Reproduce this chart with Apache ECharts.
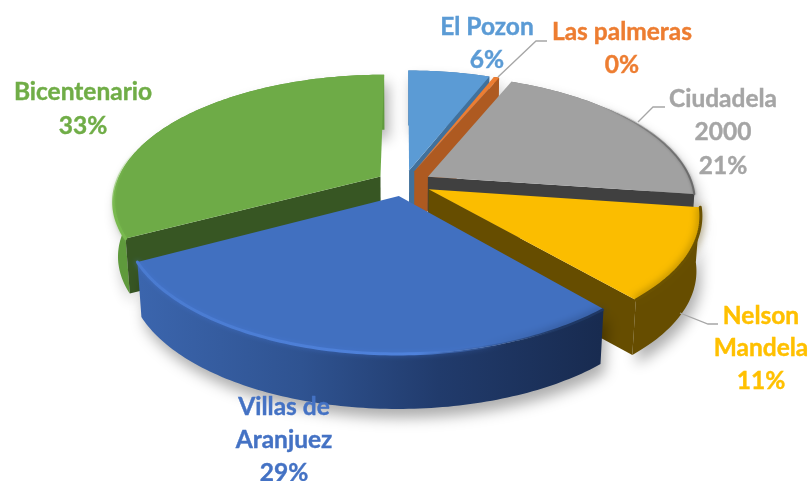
<!DOCTYPE html>
<html>
<head>
<meta charset="utf-8">
<style>html,body{margin:0;padding:0;background:#fff}#c{width:812px;height:481px}</style>
<script src="https://cdn.jsdelivr.net/npm/echarts@6/dist/echarts.min.js"></script>
</head>
<body>
<div id="c"></div>
<script>
const categories = ['El Pozon', 'Las palmeras', 'Ciudadela 2000', 'Nelson Mandela', 'Villas de Aranjuez', 'Bicentenario'];
const values = [6, 0.4, 21, 11.5, 28.7, 33];
const labelLines = [['El Pozon'], ['Las palmeras'], ['Ciudadela', '2000'], ['Nelson', 'Mandela'], ['Villas de', 'Aranjuez'], ['Bicentenario']];

const labelCenters = [[487, 27], [622, 32], [723, 99], [761, 316], [284, 407], [83, 92]];
const lineGap = [33, 33, 33.5, 32.5, 33, 34];
const leaders = [
  [[498, 77], [536, 41], [547, 41]],
  [[638, 122], [653, 107], [665, 107]],
  [[680, 313], [708, 324], [718, 324]]
];
const labelColors = ['#5b9bd5', '#ed7d31', '#a5a5a5', '#ffc000', '#4472c4', '#70ad47'];
const topColors = ['#5b9bd5', '#ed7d31', '#a1a1a1', '#fbbd00', '#4170c0', '#6eab47'];
const cutColors = ['#41719c', '#ae5a21', '#404040', '#664d00', '#2f5597', '#375623'];
const wallColors = ['#4a7fb0', '#ae5a21', '#7a7a7a', '#664d00', null, '#5f9a3c'];
const paintOrder = [0, 1, 2, 5, 3, 4];

const P = { cx: 404, cy: 183, rx: 264, ry: 123, k: 0.187, explode: 0.105, depth: 55, shrink: 0.985 };
const total = values.reduce((a, b) => a + b, 0);
const spans = [];
values.reduce((acc, v, i) => { spans[i] = [acc, acc + v / total * 360]; return spans[i][1]; }, 0);

function project(u, v) {
  const w = 1 + P.k * v;
  return [P.cx + P.rx * u / w, P.cy - P.ry * v / w];
}
function lower(p) {
  return [P.cx + (p[0] - P.cx) * P.shrink, p[1] + P.depth];
}
function sliceGeom(i) {
  const a0 = spans[i][0], a1 = spans[i][1], mid = (a0 + a1) / 2 * Math.PI / 180;
  const ou = P.explode * Math.sin(mid), ov = P.explode * Math.cos(mid);
  const rim = [];
  const n = Math.max(2, Math.ceil(a1 - a0));
  for (let j = 0; j <= n; j++) {
    const t = (a0 + (a1 - a0) * j / n) * Math.PI / 180;
    rim.push(project(ou + Math.sin(t), ov + Math.cos(t)));
  }
  return { apex: project(ou, ov), rim, startVisible: Math.sin(a0 * Math.PI / 180) < -0.01, endVisible: Math.sin(a1 * Math.PI / 180) > 0.01 };
}
const shadow = { shadowBlur: 14, shadowOffsetX: 4, shadowOffsetY: 9, shadowColor: 'rgba(0,0,0,0.32)' };
function grad(x, x2, stops) {
  return { type: 'linear', global: true, x, y: 0, x2, y2: 0, colorStops: stops };
}
function gradY(y, y2, stops) {
  return { type: 'linear', global: true, x: 0, y, x2: 0, y2, colorStops: stops };
}
const villasWall = grad(140, 600, [
  { offset: 0, color: '#3b65ad' }, { offset: 0.35, color: '#2f5391' },
  { offset: 0.65, color: '#213b6c' }, { offset: 1, color: '#182b50' }]);
const rimStyles = {
  2: { w: 2, blur: 3, glow: 'rgba(70,70,70,0.5)', color: grad(600, 695, [{ offset: 0, color: 'rgba(90,90,90,0)' }, { offset: 1, color: '#6a6a6a' }]) },
  3: { w: 3, blur: 9, glow: '#6b5200', color: '#6b5200' },
  4: { w: 3, blur: 5, glow: 'rgba(70,120,215,0.6)', color: grad(140, 600, [
    { offset: 0, color: '#4a7bd0' }, { offset: 0.6, color: '#4f82dc' },
    { offset: 0.74, color: 'rgba(60,100,170,0.5)' }, { offset: 0.8, color: 'rgba(40,70,130,0)' }, { offset: 1, color: 'rgba(30,50,90,0)' }]) },
  5: { w: 3, blur: 3, glow: 'rgba(120,185,78,0.4)', color: gradY(150, 210, [{ offset: 0, color: 'rgba(120,185,78,0)' }, { offset: 1, color: '#78b94e' }]) }
};
const villasDarkRim = grad(480, 560, [{ offset: 0, color: 'rgba(31,56,100,0)' }, { offset: 1, color: '#1f3864' }]);

function renderSlice(params, api) {
  const i = api.value(0);
  const g = sliceGeom(i);
  const rim = g.rim, bottom = rim.map(lower);
  const apexLow = lower(g.apex);
  const last = rim.length - 1;
  const wall = rim.concat(bottom.slice().reverse());
  const wallFill = i === 4 ? villasWall : wallColors[i];
  const kids = [
    { type: 'polygon', shape: { points: wall }, style: Object.assign({ fill: wallFill }, shadow) }
  ];
  if (g.startVisible) {
    kids.push({ type: 'polygon', shape: { points: [g.apex, rim[0], bottom[0], apexLow] }, style: { fill: cutColors[i] } });
  }
  if (g.endVisible) {
    kids.push({ type: 'polygon', shape: { points: [g.apex, rim[last], bottom[last], apexLow] }, style: { fill: cutColors[i] } });
  }
  kids.push({ type: 'polygon', shape: { points: [g.apex].concat(rim) }, style: { fill: topColors[i] } });
  const r = rimStyles[i];
  if (r) {
    kids.push({ type: 'polyline', shape: { points: rim },
      style: { fill: null, stroke: r.color, lineWidth: r.w, shadowBlur: r.blur, shadowColor: r.glow, lineJoin: 'round', lineCap: 'round' } });
  }
  if (i === 4) {
    kids.push({ type: 'polyline', shape: { points: rim.filter(p => p[0] > 480) },
      style: { fill: null, stroke: villasDarkRim, lineWidth: 2.5, shadowBlur: 9, shadowColor: '#1b3058' } });
  }
  return { type: 'group', children: kids };
}
function renderLabels(params, api) {
  const i = api.value(0);
  const pct = Math.round(values[i] / total * 100) + '%';
  const lines = labelLines[i].concat(pct);
  const c = labelCenters[i];
  return { type: 'group', children: lines.map((s, j) => ({
    type: 'text', z2: 20,
    style: { text: s, x: c[0], y: c[1] + j * lineGap[i], align: 'center', verticalAlign: 'middle',
      fill: labelColors[i], stroke: labelColors[i], lineWidth: 0.4, font: 'bold 24.5px Lato, Carlito, sans-serif' }
  })) };
}
function renderLeader(params, api) {
  const pts = leaders[api.value(0)];
  return { type: 'polyline', shape: { points: pts }, style: { fill: null, stroke: '#a6a6a6', lineWidth: 1.3 } };
}
const chart = echarts.init(document.getElementById('c'), null, { renderer: 'canvas' });
chart.setOption({
  animation: false,
  backgroundColor: '#fff',
  series: [
    { type: 'custom', coordinateSystem: 'none', silent: true, z: 1, data: paintOrder.map(i => [i, values[i]]), renderItem: renderSlice },
    { type: 'custom', coordinateSystem: 'none', silent: true, z: 2, data: leaders.map((_, i) => [i]), renderItem: renderLeader },
    { type: 'custom', coordinateSystem: 'none', silent: true, z: 3, data: categories.map((_, i) => [i]), renderItem: renderLabels }
  ]
});
</script>
</body>
</html>
